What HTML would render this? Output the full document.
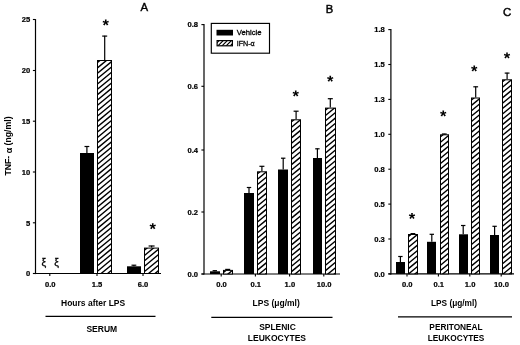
<!DOCTYPE html>
<html><head><meta charset="utf-8"><title>TNF-alpha figure</title>
<style>
html,body{margin:0;padding:0;background:#fff;}
body{width:520px;height:345px;overflow:hidden;}
svg{display:block;font-family:"Liberation Sans", sans-serif;}
</style></head><body>
<svg width="520" height="345" viewBox="0 0 520 345">
<defs>
<filter id="b" x="-2%" y="-2%" width="104%" height="104%"><feGaussianBlur stdDeviation="0.28"/></filter>
</defs>
<rect width="520" height="345" fill="#fff"/>
<g filter="url(#b)">
<line x1="35.50" y1="19.10" x2="35.50" y2="274.10" stroke="#000" stroke-width="1.2"/>
<line x1="33.00" y1="273.50" x2="161.00" y2="273.50" stroke="#000" stroke-width="1.2"/>
<line x1="32.90" y1="19.50" x2="35.50" y2="19.50" stroke="#000" stroke-width="1.1"/>
<text transform="translate(30.30,22.20) scale(1.0,1)" font-size="7.6" text-anchor="end" font-weight="bold" stroke="#000" stroke-width="0.22">25</text>
<line x1="32.90" y1="70.50" x2="35.50" y2="70.50" stroke="#000" stroke-width="1.1"/>
<text transform="translate(30.30,73.20) scale(1.0,1)" font-size="7.6" text-anchor="end" font-weight="bold" stroke="#000" stroke-width="0.22">20</text>
<line x1="32.90" y1="121.20" x2="35.50" y2="121.20" stroke="#000" stroke-width="1.1"/>
<text transform="translate(30.30,123.90) scale(1.0,1)" font-size="7.6" text-anchor="end" font-weight="bold" stroke="#000" stroke-width="0.22">15</text>
<line x1="32.90" y1="172.00" x2="35.50" y2="172.00" stroke="#000" stroke-width="1.1"/>
<text transform="translate(30.30,174.70) scale(1.0,1)" font-size="7.6" text-anchor="end" font-weight="bold" stroke="#000" stroke-width="0.22">10</text>
<line x1="32.90" y1="222.80" x2="35.50" y2="222.80" stroke="#000" stroke-width="1.1"/>
<text transform="translate(30.30,225.50) scale(1.0,1)" font-size="7.6" text-anchor="end" font-weight="bold" stroke="#000" stroke-width="0.22">5</text>
<line x1="32.90" y1="273.50" x2="35.50" y2="273.50" stroke="#000" stroke-width="1.1"/>
<text transform="translate(30.30,276.20) scale(1.0,1)" font-size="7.6" text-anchor="end" font-weight="bold" stroke="#000" stroke-width="0.22">0</text>
<line x1="49.80" y1="273.50" x2="49.80" y2="276.10" stroke="#000" stroke-width="1.1"/>
<line x1="97.00" y1="273.50" x2="97.00" y2="276.10" stroke="#000" stroke-width="1.1"/>
<line x1="143.00" y1="273.50" x2="143.00" y2="276.10" stroke="#000" stroke-width="1.1"/>
<text transform="translate(50.30,287.20) scale(1.0,1)" font-size="7.6" text-anchor="middle" font-weight="bold" stroke="#000" stroke-width="0.22">0.0</text>
<text transform="translate(97.00,287.20) scale(1.0,1)" font-size="7.6" text-anchor="middle" font-weight="bold" stroke="#000" stroke-width="0.22">1.5</text>
<text transform="translate(143.00,287.20) scale(1.0,1)" font-size="7.6" text-anchor="middle" font-weight="bold" stroke="#000" stroke-width="0.22">6.0</text>
<rect x="80.00" y="153.00" width="14.00" height="120.50" fill="#000"/>
<line x1="86.90" y1="153.00" x2="86.90" y2="146.20" stroke="#000" stroke-width="1.2"/>
<line x1="84.50" y1="146.50" x2="89.30" y2="146.50" stroke="#000" stroke-width="1.2"/>
<clipPath id="c1"><rect x="97.50" y="60.50" width="14.00" height="213.00"/></clipPath>
<rect x="97.50" y="60.50" width="14.00" height="213.00" fill="#fff"/>
<path clip-path="url(#c1)" d="M96.50 63.32L112.50 50.13M96.50 68.67L112.50 55.48M96.50 74.02L112.50 60.83M96.50 79.37L112.50 66.18M96.50 84.72L112.50 71.53M96.50 90.07L112.50 76.88M96.50 95.42L112.50 82.23M96.50 100.77L112.50 87.58M96.50 106.12L112.50 92.93M96.50 111.47L112.50 98.28M96.50 116.82L112.50 103.63M96.50 122.17L112.50 108.98M96.50 127.52L112.50 114.33M96.50 132.87L112.50 119.68M96.50 138.22L112.50 125.03M96.50 143.57L112.50 130.38M96.50 148.92L112.50 135.73M96.50 154.27L112.50 141.08M96.50 159.62L112.50 146.43M96.50 164.97L112.50 151.78M96.50 170.32L112.50 157.13M96.50 175.67L112.50 162.48M96.50 181.02L112.50 167.83M96.50 186.37L112.50 173.18M96.50 191.72L112.50 178.53M96.50 197.07L112.50 183.88M96.50 202.42L112.50 189.23M96.50 207.77L112.50 194.58M96.50 213.12L112.50 199.93M96.50 218.47L112.50 205.28M96.50 223.82L112.50 210.63M96.50 229.17L112.50 215.98M96.50 234.52L112.50 221.33M96.50 239.87L112.50 226.68M96.50 245.22L112.50 232.03M96.50 250.57L112.50 237.38M96.50 255.92L112.50 242.73M96.50 261.27L112.50 248.08M96.50 266.62L112.50 253.43M96.50 271.97L112.50 258.78M96.50 277.32L112.50 264.13M96.50 282.67L112.50 269.48M96.50 288.02L112.50 274.83" stroke="#000" stroke-width="1.4" fill="none"/>
<rect x="97.50" y="60.50" width="14.00" height="213.00" fill="none" stroke="#000" stroke-width="1.0"/>
<line x1="104.70" y1="60.00" x2="104.70" y2="35.80" stroke="#000" stroke-width="1.2"/>
<line x1="102.20" y1="36.10" x2="107.20" y2="36.10" stroke="#000" stroke-width="1.2"/>
<rect x="127.00" y="266.30" width="14.00" height="7.20" fill="#000"/>
<line x1="133.90" y1="266.30" x2="133.90" y2="264.90" stroke="#000" stroke-width="1.2"/>
<line x1="131.50" y1="265.20" x2="136.30" y2="265.20" stroke="#000" stroke-width="1.2"/>
<clipPath id="c2"><rect x="144.50" y="248.10" width="14.00" height="25.40"/></clipPath>
<rect x="144.50" y="248.10" width="14.00" height="25.40" fill="#fff"/>
<path clip-path="url(#c2)" d="M143.50 250.92L159.50 237.73M143.50 256.27L159.50 243.08M143.50 261.62L159.50 248.43M143.50 266.97L159.50 253.78M143.50 272.32L159.50 259.13M143.50 277.67L159.50 264.48M143.50 283.02L159.50 269.83M143.50 288.37L159.50 275.18" stroke="#000" stroke-width="1.4" fill="none"/>
<rect x="144.50" y="248.10" width="14.00" height="25.40" fill="none" stroke="#000" stroke-width="1.0"/>
<line x1="151.60" y1="247.60" x2="151.60" y2="245.70" stroke="#000" stroke-width="1.2"/>
<line x1="148.60" y1="246.00" x2="154.60" y2="246.00" stroke="#000" stroke-width="1.2"/>
<text transform="translate(105.60,30.85) rotate(0.03) scale(1.0,1)" font-size="16.5" text-anchor="middle" font-weight="bold" >*</text>
<text transform="translate(152.80,234.45) rotate(0.03) scale(1.0,1)" font-size="16.5" text-anchor="middle" font-weight="bold" >*</text>
<text transform="translate(43.80,266.00) scale(1.0,1)" font-size="10.5" text-anchor="middle" font-weight="normal" stroke="#000" stroke-width="0.3">ξ</text>
<text transform="translate(56.50,266.00) scale(1.0,1)" font-size="10.5" text-anchor="middle" font-weight="normal" stroke="#000" stroke-width="0.3">ξ</text>
<text transform="translate(144.20,10.80) scale(1.0,1)" font-size="11.4" text-anchor="middle" font-weight="normal" stroke="#000" stroke-width="0.4">A</text>
<text transform="translate(93.10,306.00) scale(1.025,1)" font-size="8.3" text-anchor="middle" font-weight="bold" >Hours after LPS</text>
<line x1="45.50" y1="316.30" x2="155.50" y2="316.30" stroke="#000" stroke-width="1.2"/>
<text transform="translate(101.80,331.50) scale(1.03,1)" font-size="8.3" text-anchor="middle" font-weight="bold" >SERUM</text>
<text transform="translate(10.6,146) rotate(-90) scale(1.06,1)" font-size="8.2" text-anchor="middle" font-weight="bold">TNF-<tspan font-size="8.4" dy="1.3"> α</tspan><tspan dy="-1.3"> (ng/ml)</tspan></text>
<line x1="204.00" y1="24.10" x2="204.00" y2="274.60" stroke="#000" stroke-width="1.2"/>
<line x1="201.50" y1="274.00" x2="340.00" y2="274.00" stroke="#000" stroke-width="1.2"/>
<line x1="201.40" y1="24.60" x2="204.00" y2="24.60" stroke="#000" stroke-width="1.1"/>
<text transform="translate(198.00,27.30) scale(1.0,1)" font-size="7.6" text-anchor="end" font-weight="bold" stroke="#000" stroke-width="0.22">0.8</text>
<line x1="201.40" y1="86.30" x2="204.00" y2="86.30" stroke="#000" stroke-width="1.1"/>
<text transform="translate(198.00,89.00) scale(1.0,1)" font-size="7.6" text-anchor="end" font-weight="bold" stroke="#000" stroke-width="0.22">0.6</text>
<line x1="201.40" y1="150.00" x2="204.00" y2="150.00" stroke="#000" stroke-width="1.1"/>
<text transform="translate(198.00,152.70) scale(1.0,1)" font-size="7.6" text-anchor="end" font-weight="bold" stroke="#000" stroke-width="0.22">0.4</text>
<line x1="201.40" y1="212.00" x2="204.00" y2="212.00" stroke="#000" stroke-width="1.1"/>
<text transform="translate(198.00,214.70) scale(1.0,1)" font-size="7.6" text-anchor="end" font-weight="bold" stroke="#000" stroke-width="0.22">0.2</text>
<line x1="201.40" y1="274.00" x2="204.00" y2="274.00" stroke="#000" stroke-width="1.1"/>
<text transform="translate(198.00,276.70) scale(1.0,1)" font-size="7.6" text-anchor="end" font-weight="bold" stroke="#000" stroke-width="0.22">0.0</text>
<line x1="221.20" y1="274.00" x2="221.20" y2="276.60" stroke="#000" stroke-width="1.1"/>
<text transform="translate(221.50,287.20) scale(1.0,1)" font-size="7.6" text-anchor="middle" font-weight="bold" stroke="#000" stroke-width="0.22">0.0</text>
<line x1="255.40" y1="274.00" x2="255.40" y2="276.60" stroke="#000" stroke-width="1.1"/>
<text transform="translate(255.70,287.20) scale(1.0,1)" font-size="7.6" text-anchor="middle" font-weight="bold" stroke="#000" stroke-width="0.22">0.1</text>
<line x1="289.60" y1="274.00" x2="289.60" y2="276.60" stroke="#000" stroke-width="1.1"/>
<text transform="translate(289.90,287.20) scale(1.0,1)" font-size="7.6" text-anchor="middle" font-weight="bold" stroke="#000" stroke-width="0.22">1.0</text>
<line x1="323.80" y1="274.00" x2="323.80" y2="276.60" stroke="#000" stroke-width="1.1"/>
<text transform="translate(324.10,287.20) scale(1.0,1)" font-size="7.6" text-anchor="middle" font-weight="bold" stroke="#000" stroke-width="0.22">10.0</text>
<rect x="210.00" y="271.30" width="10.00" height="2.70" fill="#000"/>
<line x1="214.80" y1="271.30" x2="214.80" y2="270.40" stroke="#000" stroke-width="1.2"/>
<line x1="212.60" y1="270.70" x2="217.00" y2="270.70" stroke="#000" stroke-width="1.2"/>
<clipPath id="c3"><rect x="223.50" y="270.40" width="9.00" height="3.60"/></clipPath>
<rect x="223.50" y="270.40" width="9.00" height="3.60" fill="#fff"/>
<path clip-path="url(#c3)" d="M222.50 273.22L233.50 264.16M222.50 278.57L233.50 269.51M222.50 283.92L233.50 274.86" stroke="#000" stroke-width="1.4" fill="none"/>
<rect x="223.50" y="270.40" width="9.00" height="3.60" fill="none" stroke="#000" stroke-width="1.0"/>
<line x1="227.70" y1="269.90" x2="227.70" y2="269.10" stroke="#000" stroke-width="1.2"/>
<line x1="225.20" y1="269.40" x2="230.20" y2="269.40" stroke="#000" stroke-width="1.2"/>
<rect x="244.00" y="193.00" width="10.00" height="81.00" fill="#000"/>
<line x1="249.00" y1="193.00" x2="249.00" y2="187.20" stroke="#000" stroke-width="1.2"/>
<line x1="246.80" y1="187.50" x2="251.20" y2="187.50" stroke="#000" stroke-width="1.2"/>
<clipPath id="c4"><rect x="257.50" y="171.80" width="9.00" height="102.20"/></clipPath>
<rect x="257.50" y="171.80" width="9.00" height="102.20" fill="#fff"/>
<path clip-path="url(#c4)" d="M256.50 174.62L267.50 165.56M256.50 179.97L267.50 170.91M256.50 185.32L267.50 176.26M256.50 190.67L267.50 181.61M256.50 196.02L267.50 186.96M256.50 201.37L267.50 192.31M256.50 206.72L267.50 197.66M256.50 212.07L267.50 203.01M256.50 217.42L267.50 208.36M256.50 222.77L267.50 213.71M256.50 228.12L267.50 219.06M256.50 233.47L267.50 224.41M256.50 238.82L267.50 229.76M256.50 244.17L267.50 235.11M256.50 249.52L267.50 240.46M256.50 254.87L267.50 245.81M256.50 260.22L267.50 251.16M256.50 265.57L267.50 256.51M256.50 270.92L267.50 261.86M256.50 276.27L267.50 267.21M256.50 281.62L267.50 272.56M256.50 286.97L267.50 277.91" stroke="#000" stroke-width="1.4" fill="none"/>
<rect x="257.50" y="171.80" width="9.00" height="102.20" fill="none" stroke="#000" stroke-width="1.0"/>
<line x1="261.90" y1="171.30" x2="261.90" y2="166.00" stroke="#000" stroke-width="1.2"/>
<line x1="259.40" y1="166.30" x2="264.40" y2="166.30" stroke="#000" stroke-width="1.2"/>
<rect x="278.00" y="169.50" width="10.00" height="104.50" fill="#000"/>
<line x1="283.20" y1="169.50" x2="283.20" y2="157.90" stroke="#000" stroke-width="1.2"/>
<line x1="281.00" y1="158.20" x2="285.40" y2="158.20" stroke="#000" stroke-width="1.2"/>
<clipPath id="c5"><rect x="291.50" y="119.80" width="9.00" height="154.20"/></clipPath>
<rect x="291.50" y="119.80" width="9.00" height="154.20" fill="#fff"/>
<path clip-path="url(#c5)" d="M290.50 122.62L301.50 113.56M290.50 127.97L301.50 118.91M290.50 133.32L301.50 124.26M290.50 138.67L301.50 129.61M290.50 144.02L301.50 134.96M290.50 149.37L301.50 140.31M290.50 154.72L301.50 145.66M290.50 160.07L301.50 151.01M290.50 165.42L301.50 156.36M290.50 170.77L301.50 161.71M290.50 176.12L301.50 167.06M290.50 181.47L301.50 172.41M290.50 186.82L301.50 177.76M290.50 192.17L301.50 183.11M290.50 197.52L301.50 188.46M290.50 202.87L301.50 193.81M290.50 208.22L301.50 199.16M290.50 213.57L301.50 204.51M290.50 218.92L301.50 209.86M290.50 224.27L301.50 215.21M290.50 229.62L301.50 220.56M290.50 234.97L301.50 225.91M290.50 240.32L301.50 231.26M290.50 245.67L301.50 236.61M290.50 251.02L301.50 241.96M290.50 256.37L301.50 247.31M290.50 261.72L301.50 252.66M290.50 267.07L301.50 258.01M290.50 272.42L301.50 263.36M290.50 277.77L301.50 268.71M290.50 283.12L301.50 274.06" stroke="#000" stroke-width="1.4" fill="none"/>
<rect x="291.50" y="119.80" width="9.00" height="154.20" fill="none" stroke="#000" stroke-width="1.0"/>
<line x1="296.10" y1="119.30" x2="296.10" y2="110.90" stroke="#000" stroke-width="1.2"/>
<line x1="293.60" y1="111.20" x2="298.60" y2="111.20" stroke="#000" stroke-width="1.2"/>
<rect x="313.00" y="158.00" width="9.00" height="116.00" fill="#000"/>
<line x1="317.40" y1="158.00" x2="317.40" y2="148.50" stroke="#000" stroke-width="1.2"/>
<line x1="315.20" y1="148.80" x2="319.60" y2="148.80" stroke="#000" stroke-width="1.2"/>
<clipPath id="c6"><rect x="325.50" y="108.10" width="10.00" height="165.90"/></clipPath>
<rect x="325.50" y="108.10" width="10.00" height="165.90" fill="#fff"/>
<path clip-path="url(#c6)" d="M324.50 110.92L336.50 101.03M324.50 116.27L336.50 106.38M324.50 121.62L336.50 111.73M324.50 126.97L336.50 117.08M324.50 132.32L336.50 122.43M324.50 137.67L336.50 127.78M324.50 143.02L336.50 133.13M324.50 148.37L336.50 138.48M324.50 153.72L336.50 143.83M324.50 159.07L336.50 149.18M324.50 164.42L336.50 154.53M324.50 169.77L336.50 159.88M324.50 175.12L336.50 165.23M324.50 180.47L336.50 170.58M324.50 185.82L336.50 175.93M324.50 191.17L336.50 181.28M324.50 196.52L336.50 186.63M324.50 201.87L336.50 191.98M324.50 207.22L336.50 197.33M324.50 212.57L336.50 202.68M324.50 217.92L336.50 208.03M324.50 223.27L336.50 213.38M324.50 228.62L336.50 218.73M324.50 233.97L336.50 224.08M324.50 239.32L336.50 229.43M324.50 244.67L336.50 234.78M324.50 250.02L336.50 240.13M324.50 255.37L336.50 245.48M324.50 260.72L336.50 250.83M324.50 266.07L336.50 256.18M324.50 271.42L336.50 261.53M324.50 276.77L336.50 266.88M324.50 282.12L336.50 272.23M324.50 287.47L336.50 277.58" stroke="#000" stroke-width="1.4" fill="none"/>
<rect x="325.50" y="108.10" width="10.00" height="165.90" fill="none" stroke="#000" stroke-width="1.0"/>
<line x1="330.30" y1="107.60" x2="330.30" y2="98.40" stroke="#000" stroke-width="1.2"/>
<line x1="327.80" y1="98.70" x2="332.80" y2="98.70" stroke="#000" stroke-width="1.2"/>
<text transform="translate(295.70,101.75) rotate(0.03) scale(1.0,1)" font-size="16.5" text-anchor="middle" font-weight="bold" >*</text>
<text transform="translate(330.20,86.95) rotate(0.03) scale(1.0,1)" font-size="16.5" text-anchor="middle" font-weight="bold" >*</text>
<rect x="211.3" y="23.4" width="58.2" height="29.8" fill="#fff" stroke="#000" stroke-width="1.15"/>
<rect x="216.5" y="29.8" width="16.5" height="5.7" fill="#000"/>
<clipPath id="c7"><rect x="217.10" y="40.60" width="15.30" height="5.20"/></clipPath>
<rect x="217.10" y="40.60" width="15.30" height="5.20" fill="#fff"/>
<path clip-path="url(#c7)" d="M216.10 43.60L233.40 26.30M216.10 47.70L233.40 30.40M216.10 51.80L233.40 34.50M216.10 55.90L233.40 38.60M216.10 60.00L233.40 42.70M216.10 64.10L233.40 46.80" stroke="#000" stroke-width="1.15" fill="none"/>
<rect x="217.10" y="40.60" width="15.30" height="5.20" fill="none" stroke="#000" stroke-width="1.2"/>
<text transform="translate(236.80,34.90) scale(1.0,1)" font-size="7.7" text-anchor="start" font-weight="normal" stroke="#000" stroke-width="0.3">Vehicle</text>
<text transform="translate(236.80,45.60) scale(0.95,1)" font-size="7.5" text-anchor="start" font-weight="normal" stroke="#000" stroke-width="0.3">IFN-α</text>
<text transform="translate(329.50,12.80) scale(1.0,1)" font-size="11.2" text-anchor="middle" font-weight="normal" stroke="#000" stroke-width="0.45">B</text>
<text transform="translate(276.20,306.00) scale(1.025,1)" font-size="8.3" text-anchor="middle" font-weight="bold" >LPS (μg/ml)</text>
<line x1="211.30" y1="317.40" x2="332.50" y2="317.40" stroke="#000" stroke-width="1.2"/>
<text transform="translate(277.50,330.20) scale(1.02,1)" font-size="8.3" text-anchor="middle" font-weight="bold" >SPLENIC</text>
<text transform="translate(276.90,341.30) scale(1.03,1)" font-size="8.3" text-anchor="middle" font-weight="bold" >LEUKOCYTES</text>
<line x1="390.90" y1="28.90" x2="390.90" y2="274.50" stroke="#000" stroke-width="1.2"/>
<line x1="388.40" y1="273.90" x2="514.00" y2="273.90" stroke="#000" stroke-width="1.2"/>
<line x1="388.30" y1="273.90" x2="390.90" y2="273.90" stroke="#000" stroke-width="1.1"/>
<text transform="translate(384.80,276.60) scale(1.0,1)" font-size="7.6" text-anchor="end" font-weight="bold" stroke="#000" stroke-width="0.22">0.0</text>
<line x1="388.30" y1="239.00" x2="390.90" y2="239.00" stroke="#000" stroke-width="1.1"/>
<text transform="translate(384.80,241.70) scale(1.0,1)" font-size="7.6" text-anchor="end" font-weight="bold" stroke="#000" stroke-width="0.22">0.3</text>
<line x1="388.30" y1="204.10" x2="390.90" y2="204.10" stroke="#000" stroke-width="1.1"/>
<text transform="translate(384.80,206.80) scale(1.0,1)" font-size="7.6" text-anchor="end" font-weight="bold" stroke="#000" stroke-width="0.22">0.5</text>
<line x1="388.30" y1="169.20" x2="390.90" y2="169.20" stroke="#000" stroke-width="1.1"/>
<text transform="translate(384.80,171.90) scale(1.0,1)" font-size="7.6" text-anchor="end" font-weight="bold" stroke="#000" stroke-width="0.22">0.8</text>
<line x1="388.30" y1="134.30" x2="390.90" y2="134.30" stroke="#000" stroke-width="1.1"/>
<text transform="translate(384.80,137.00) scale(1.0,1)" font-size="7.6" text-anchor="end" font-weight="bold" stroke="#000" stroke-width="0.22">1.0</text>
<line x1="388.30" y1="99.40" x2="390.90" y2="99.40" stroke="#000" stroke-width="1.1"/>
<text transform="translate(384.80,102.10) scale(1.0,1)" font-size="7.6" text-anchor="end" font-weight="bold" stroke="#000" stroke-width="0.22">1.3</text>
<line x1="388.30" y1="64.50" x2="390.90" y2="64.50" stroke="#000" stroke-width="1.1"/>
<text transform="translate(384.80,67.20) scale(1.0,1)" font-size="7.6" text-anchor="end" font-weight="bold" stroke="#000" stroke-width="0.22">1.5</text>
<line x1="388.30" y1="29.60" x2="390.90" y2="29.60" stroke="#000" stroke-width="1.1"/>
<text transform="translate(384.80,32.30) scale(1.0,1)" font-size="7.6" text-anchor="end" font-weight="bold" stroke="#000" stroke-width="0.22">1.8</text>
<line x1="407.00" y1="273.90" x2="407.00" y2="276.50" stroke="#000" stroke-width="1.1"/>
<text transform="translate(407.30,287.20) scale(1.0,1)" font-size="7.6" text-anchor="middle" font-weight="bold" stroke="#000" stroke-width="0.22">0.0</text>
<line x1="438.40" y1="273.90" x2="438.40" y2="276.50" stroke="#000" stroke-width="1.1"/>
<text transform="translate(438.70,287.20) scale(1.0,1)" font-size="7.6" text-anchor="middle" font-weight="bold" stroke="#000" stroke-width="0.22">0.1</text>
<line x1="469.80" y1="273.90" x2="469.80" y2="276.50" stroke="#000" stroke-width="1.1"/>
<text transform="translate(470.10,287.20) scale(1.0,1)" font-size="7.6" text-anchor="middle" font-weight="bold" stroke="#000" stroke-width="0.22">1.0</text>
<line x1="501.20" y1="273.90" x2="501.20" y2="276.50" stroke="#000" stroke-width="1.1"/>
<text transform="translate(501.50,287.20) scale(1.0,1)" font-size="7.6" text-anchor="middle" font-weight="bold" stroke="#000" stroke-width="0.22">10.0</text>
<rect x="396.00" y="262.00" width="9.00" height="11.90" fill="#000"/>
<line x1="400.40" y1="262.00" x2="400.40" y2="256.20" stroke="#000" stroke-width="1.2"/>
<line x1="398.20" y1="256.50" x2="402.60" y2="256.50" stroke="#000" stroke-width="1.2"/>
<clipPath id="c8"><rect x="408.50" y="234.50" width="9.00" height="39.40"/></clipPath>
<rect x="408.50" y="234.50" width="9.00" height="39.40" fill="#fff"/>
<path clip-path="url(#c8)" d="M407.50 237.32L418.50 228.26M407.50 242.67L418.50 233.61M407.50 248.02L418.50 238.96M407.50 253.37L418.50 244.31M407.50 258.72L418.50 249.66M407.50 264.07L418.50 255.01M407.50 269.42L418.50 260.36M407.50 274.77L418.50 265.71M407.50 280.12L418.50 271.06M407.50 285.47L418.50 276.41" stroke="#000" stroke-width="1.4" fill="none"/>
<rect x="408.50" y="234.50" width="9.00" height="39.40" fill="none" stroke="#000" stroke-width="1.0"/>
<line x1="412.90" y1="234.00" x2="412.90" y2="233.30" stroke="#000" stroke-width="1.2"/>
<line x1="410.50" y1="233.60" x2="415.30" y2="233.60" stroke="#000" stroke-width="1.2"/>
<rect x="427.00" y="241.80" width="9.00" height="32.10" fill="#000"/>
<line x1="431.80" y1="241.80" x2="431.80" y2="234.00" stroke="#000" stroke-width="1.2"/>
<line x1="429.60" y1="234.30" x2="434.00" y2="234.30" stroke="#000" stroke-width="1.2"/>
<clipPath id="c9"><rect x="440.50" y="134.80" width="8.00" height="139.10"/></clipPath>
<rect x="440.50" y="134.80" width="8.00" height="139.10" fill="#fff"/>
<path clip-path="url(#c9)" d="M439.50 137.62L449.50 129.38M439.50 142.97L449.50 134.73M439.50 148.32L449.50 140.08M439.50 153.67L449.50 145.43M439.50 159.02L449.50 150.78M439.50 164.37L449.50 156.13M439.50 169.72L449.50 161.48M439.50 175.07L449.50 166.83M439.50 180.42L449.50 172.18M439.50 185.77L449.50 177.53M439.50 191.12L449.50 182.88M439.50 196.47L449.50 188.23M439.50 201.82L449.50 193.58M439.50 207.17L449.50 198.93M439.50 212.52L449.50 204.28M439.50 217.87L449.50 209.63M439.50 223.22L449.50 214.98M439.50 228.57L449.50 220.33M439.50 233.92L449.50 225.68M439.50 239.27L449.50 231.03M439.50 244.62L449.50 236.38M439.50 249.97L449.50 241.73M439.50 255.32L449.50 247.08M439.50 260.67L449.50 252.43M439.50 266.02L449.50 257.78M439.50 271.37L449.50 263.13M439.50 276.72L449.50 268.48M439.50 282.07L449.50 273.83" stroke="#000" stroke-width="1.4" fill="none"/>
<rect x="440.50" y="134.80" width="8.00" height="139.10" fill="none" stroke="#000" stroke-width="1.0"/>
<line x1="444.30" y1="134.30" x2="444.30" y2="133.70" stroke="#000" stroke-width="1.2"/>
<line x1="441.90" y1="134.00" x2="446.70" y2="134.00" stroke="#000" stroke-width="1.2"/>
<rect x="459.00" y="234.30" width="9.00" height="39.60" fill="#000"/>
<line x1="463.20" y1="234.30" x2="463.20" y2="225.20" stroke="#000" stroke-width="1.2"/>
<line x1="461.00" y1="225.50" x2="465.40" y2="225.50" stroke="#000" stroke-width="1.2"/>
<clipPath id="c10"><rect x="471.50" y="98.00" width="8.00" height="175.90"/></clipPath>
<rect x="471.50" y="98.00" width="8.00" height="175.90" fill="#fff"/>
<path clip-path="url(#c10)" d="M470.50 100.82L480.50 92.58M470.50 106.17L480.50 97.93M470.50 111.52L480.50 103.28M470.50 116.87L480.50 108.63M470.50 122.22L480.50 113.98M470.50 127.57L480.50 119.33M470.50 132.92L480.50 124.68M470.50 138.27L480.50 130.03M470.50 143.62L480.50 135.38M470.50 148.97L480.50 140.73M470.50 154.32L480.50 146.08M470.50 159.67L480.50 151.43M470.50 165.02L480.50 156.78M470.50 170.37L480.50 162.13M470.50 175.72L480.50 167.48M470.50 181.07L480.50 172.83M470.50 186.42L480.50 178.18M470.50 191.77L480.50 183.53M470.50 197.12L480.50 188.88M470.50 202.47L480.50 194.23M470.50 207.82L480.50 199.58M470.50 213.17L480.50 204.93M470.50 218.52L480.50 210.28M470.50 223.87L480.50 215.63M470.50 229.22L480.50 220.98M470.50 234.57L480.50 226.33M470.50 239.92L480.50 231.68M470.50 245.27L480.50 237.03M470.50 250.62L480.50 242.38M470.50 255.97L480.50 247.73M470.50 261.32L480.50 253.08M470.50 266.67L480.50 258.43M470.50 272.02L480.50 263.78M470.50 277.37L480.50 269.13M470.50 282.72L480.50 274.48" stroke="#000" stroke-width="1.4" fill="none"/>
<rect x="471.50" y="98.00" width="8.00" height="175.90" fill="none" stroke="#000" stroke-width="1.0"/>
<line x1="475.70" y1="97.50" x2="475.70" y2="86.50" stroke="#000" stroke-width="1.2"/>
<line x1="473.30" y1="86.80" x2="478.10" y2="86.80" stroke="#000" stroke-width="1.2"/>
<rect x="490.00" y="235.00" width="9.00" height="38.90" fill="#000"/>
<line x1="494.60" y1="235.00" x2="494.60" y2="226.00" stroke="#000" stroke-width="1.2"/>
<line x1="492.40" y1="226.30" x2="496.80" y2="226.30" stroke="#000" stroke-width="1.2"/>
<clipPath id="c11"><rect x="502.50" y="79.80" width="9.00" height="194.10"/></clipPath>
<rect x="502.50" y="79.80" width="9.00" height="194.10" fill="#fff"/>
<path clip-path="url(#c11)" d="M501.50 82.62L512.50 73.56M501.50 87.97L512.50 78.91M501.50 93.32L512.50 84.26M501.50 98.67L512.50 89.61M501.50 104.02L512.50 94.96M501.50 109.37L512.50 100.31M501.50 114.72L512.50 105.66M501.50 120.07L512.50 111.01M501.50 125.42L512.50 116.36M501.50 130.77L512.50 121.71M501.50 136.12L512.50 127.06M501.50 141.47L512.50 132.41M501.50 146.82L512.50 137.76M501.50 152.17L512.50 143.11M501.50 157.52L512.50 148.46M501.50 162.87L512.50 153.81M501.50 168.22L512.50 159.16M501.50 173.57L512.50 164.51M501.50 178.92L512.50 169.86M501.50 184.27L512.50 175.21M501.50 189.62L512.50 180.56M501.50 194.97L512.50 185.91M501.50 200.32L512.50 191.26M501.50 205.67L512.50 196.61M501.50 211.02L512.50 201.96M501.50 216.37L512.50 207.31M501.50 221.72L512.50 212.66M501.50 227.07L512.50 218.01M501.50 232.42L512.50 223.36M501.50 237.77L512.50 228.71M501.50 243.12L512.50 234.06M501.50 248.47L512.50 239.41M501.50 253.82L512.50 244.76M501.50 259.17L512.50 250.11M501.50 264.52L512.50 255.46M501.50 269.87L512.50 260.81M501.50 275.22L512.50 266.16M501.50 280.57L512.50 271.51M501.50 285.92L512.50 276.86" stroke="#000" stroke-width="1.4" fill="none"/>
<rect x="502.50" y="79.80" width="9.00" height="194.10" fill="none" stroke="#000" stroke-width="1.0"/>
<line x1="507.10" y1="79.30" x2="507.10" y2="72.80" stroke="#000" stroke-width="1.2"/>
<line x1="504.70" y1="73.10" x2="509.50" y2="73.10" stroke="#000" stroke-width="1.2"/>
<text transform="translate(412.00,224.25) rotate(0.03) scale(1.0,1)" font-size="16.5" text-anchor="middle" font-weight="bold" >*</text>
<text transform="translate(443.20,121.75) rotate(0.03) scale(1.0,1)" font-size="16.5" text-anchor="middle" font-weight="bold" >*</text>
<text transform="translate(474.10,76.75) rotate(0.03) scale(1.0,1)" font-size="16.5" text-anchor="middle" font-weight="bold" >*</text>
<text transform="translate(506.90,63.65) rotate(0.03) scale(1.0,1)" font-size="16.5" text-anchor="middle" font-weight="bold" >*</text>
<text transform="translate(507.00,16.10) scale(1.0,1)" font-size="11.4" text-anchor="middle" font-weight="normal" stroke="#000" stroke-width="0.45">C</text>
<text transform="translate(454.00,306.10) scale(1.0,1)" font-size="8.3" text-anchor="middle" font-weight="bold" >LPS (μg/ml)</text>
<line x1="398.00" y1="316.80" x2="512.00" y2="316.80" stroke="#000" stroke-width="1.2"/>
<text transform="translate(456.00,329.70) scale(1.0,1)" font-size="8.3" text-anchor="middle" font-weight="bold" >PERITONEAL</text>
<text transform="translate(456.00,341.00) scale(1.0,1)" font-size="8.3" text-anchor="middle" font-weight="bold" >LEUKOCYTES</text>
</g>
</svg>
</body></html>
